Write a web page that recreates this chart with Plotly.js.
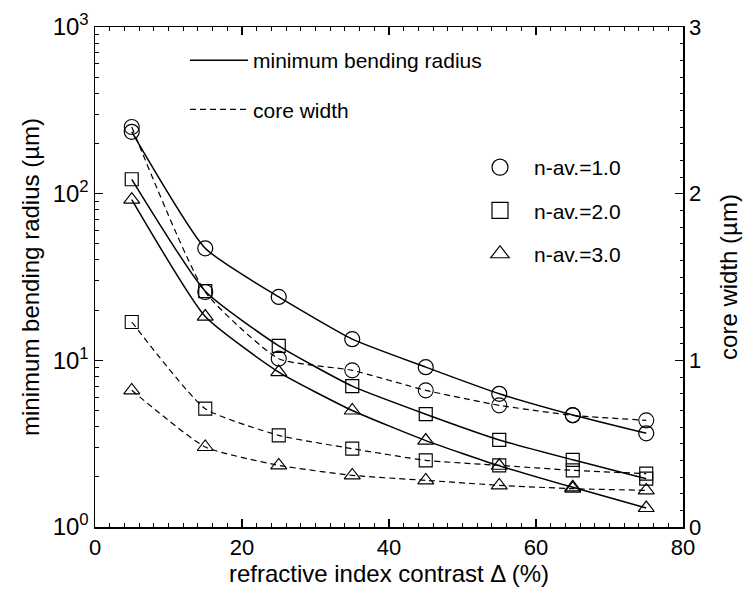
<!DOCTYPE html>
<html>
<head>
<meta charset="utf-8">
<script src="https://cdn.plot.ly/plotly-3.0.1.min.js"></script>
<style>html,body{margin:0;padding:0;background:#fff;}#chart{width:744px;height:597px;}</style>
</head>
<body>
<div id="chart"></div>
<script>
// refractive index contrast Δ (%)
const contrast = [5, 15, 25, 35, 45, 55, 65, 75];
// minimum bending radius (µm), left log axis
const radiusN1 = [235, 47, 24, 13.4, 9.1, 6.3, 4.7, 3.65];
const radiusN2 = [122, 26, 12.2, 7.0, 4.75, 3.33, 2.53, 1.95];
const radiusN3 = [92, 18.3, 8.5, 5.0, 3.3, 2.33, 1.73, 1.30];
// core width (µm), right linear axis
const widthN1 = [2.40, 1.41, 1.01, 0.94, 0.82, 0.73, 0.67, 0.64];
const widthN2 = [1.23, 0.71, 0.55, 0.47, 0.40, 0.37, 0.34, 0.32];
const widthN3 = [0.82, 0.48, 0.37, 0.31, 0.28, 0.25, 0.23, 0.22];
const seriesNames = ['n-av.=1.0', 'n-av.=2.0', 'n-av.=3.0'];
const symbols = ['circle-open', 'square-open', 'triangle-up-open'];
const markerSizes = [15, 13, 14];
const xTicks = [0, 20, 40, 60, 80];
const leftTicks = [1, 10, 100, 1000];
const leftTickText = ['10<sup>0</sup>', '10<sup>1</sup>', '10<sup>2</sup>', '10<sup>3</sup>'];
const rightTicks = [0, 1, 2, 3];

const FONT = 'Liberation Sans, Arial, Helvetica, sans-serif';
const radii = [radiusN1, radiusN2, radiusN3];
const widths = [widthN1, widthN2, widthN3];
const traces = [];
for (let i = 0; i < 3; i++) {
  traces.push({
    x: contrast, y: radii[i], yaxis: 'y', type: 'scatter', mode: 'lines+markers',
    line: {color: '#000', width: 1.5, shape: 'spline', smoothing: 0.5},
    marker: {symbol: symbols[i], size: markerSizes[i], color: '#000', line: {color: '#000', width: 1.2}},
    showlegend: false, name: 'radius ' + seriesNames[i]
  });
  traces.push({
    x: contrast, y: widths[i], yaxis: 'y2', type: 'scatter', mode: 'lines+markers',
    line: {color: '#000', width: 1.2, dash: '6px,4px', shape: 'spline', smoothing: 0.5},
    marker: {symbol: symbols[i], size: markerSizes[i], color: '#000', line: {color: '#000', width: 1.1}},
    showlegend: false, name: 'width ' + seriesNames[i]
  });
}
// legend entries (no data points)
traces.push({x: [null], y: [null], mode: 'lines', name: 'minimum bending radius',
  line: {color: '#000', width: 1.5}, legend: 'legend', legendgroup: 'a'});
traces.push({x: [null], y: [null], mode: 'lines', name: 'core width',
  line: {color: '#000', width: 1.2, dash: '6px,4px'}, legend: 'legend', legendgroup: 'b'});
for (let i = 0; i < 3; i++) {
  traces.push({x: [null], y: [null], mode: 'markers', name: seriesNames[i],
    marker: {symbol: symbols[i], size: 16, color: '#000', line: {color: '#000', width: 1.2}},
    legend: 'legend2', legendgroup: 'm' + i});
}

const axisCommon = {
  showline: true, linecolor: '#000', linewidth: 1.5, ticks: 'inside', ticklen: 8,
  tickwidth: 1.5, tickcolor: '#000', showgrid: false, zeroline: false,
  tickfont: {family: FONT, size: 22, color: '#000'}
};
const layout = {
  width: 744, height: 597,
  margin: {l: 95, r: 61, t: 27, b: 70},
  paper_bgcolor: '#fff', plot_bgcolor: '#fff',
  font: {family: FONT, color: '#000'},
  xaxis: Object.assign({}, axisCommon, {
    range: [0, 80], tickvals: xTicks, mirror: 'ticks',
    minor: {dtick: 2, ticks: 'inside', ticklen: 4, tickwidth: 1, tickcolor: '#000'},
    title: {text: 'refractive index contrast Δ (%)', font: {family: FONT, size: 24, color: '#000'}, standoff: 4}
  }),
  yaxis: Object.assign({}, axisCommon, {
    type: 'log', range: [0, 3], tickvals: leftTicks, ticktext: leftTickText,
    tickfont: {family: FONT, size: 24, color: '#000'},
    minor: {dtick: 'D1', ticks: 'inside', ticklen: 4, tickwidth: 1, tickcolor: '#000'},
    title: {text: 'minimum bending radius (µm)', font: {family: FONT, size: 24, color: '#000'}, standoff: 6}
  }),
  yaxis2: Object.assign({}, axisCommon, {
    overlaying: 'y', side: 'right', range: [0, 3], tickvals: rightTicks,
    minor: {dtick: 0.1, ticks: 'inside', ticklen: 3, tickwidth: 1, tickcolor: '#000'},
    title: {text: 'core width (µm)', font: {family: FONT, size: 24, color: '#000'}, standoff: 20}
  }),
  legend: {x: (185 - 95) / 588, y: (527 - 40) / 500, xanchor: 'left', yanchor: 'top',
    font: {family: FONT, size: 21, color: '#000'}, itemwidth: 58, tracegroupgap: 19,
    bgcolor: 'rgba(0,0,0,0)', borderwidth: 0},
  legend2: {x: (466 - 95) / 588, y: (527 - 147) / 500, xanchor: 'left', yanchor: 'top',
    font: {family: FONT, size: 21, color: '#000'}, itemwidth: 58, tracegroupgap: 13,
    bgcolor: 'rgba(0,0,0,0)', borderwidth: 0},
  showlegend: true
};
Plotly.newPlot('chart', traces, layout, {displayModeBar: false, staticPlot: true});
</script>
</body>
</html>
